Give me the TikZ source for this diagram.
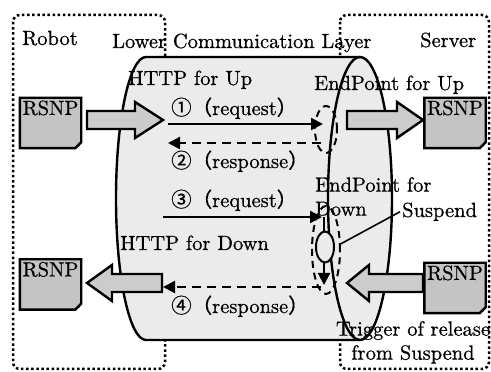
\documentclass[tikz,border=0pt]{standalone}
\usepackage{fontspec}
\setmainfont{lmroman10-regular}[Extension=.otf, FakeBold=0.7]
\newfontfamily\cjkfont{Noto Sans CJK JP}[FakeBold=0.5]
\usetikzlibrary{arrows.meta,shapes.geometric}
\definecolor{cylgray}{gray}{0.92}
\definecolor{boxgray}{gray}{0.77}
\definecolor{arrowgray}{gray}{0.80}
% wide hollow arrow: tail x, head base x, tip x, centre y
\newcommand{\bigflow}[4]{%
  \filldraw[bigarrow] (#1,#4+9) -- (#2,#4+9) -- (#2,#4+18) -- (#3,#4)
    -- (#2,#4-18) -- (#2,#4-9) -- (#1,#4-9) -- cycle;}
% circled step number followed by a full-width bracketed word
\newcommand{\stepmsg}[2]{{\cjkfont #1（}#2{\cjkfont ）}}
% document sheet with a folded lower right corner
\newcommand{\rsnpsheet}[1]{%
  \filldraw[sheet] (#1.north west) -- (#1.north east) -- ([yshift=6pt]#1.south east)
    -- ([xshift=-6pt]#1.south east) -- (#1.south west) -- cycle;
  \fill ([yshift=6pt]#1.south east) -- ([xshift=-6pt]#1.south east)
    -- ([xshift=-2pt,yshift=2pt]#1.south east) -- cycle;
  \node[anchor=north] at ([yshift=-2.5pt]#1.north) {RSNP};}
\begin{document}
\begin{tikzpicture}[x=1pt,y=1pt,
  every node/.style={font=\fontsize{20.5}{24}\selectfont, inner sep=0pt},
  lbl/.style={anchor=base west},
  partframe/.style={line width=2.5pt, dash pattern=on 2.5pt off 2.6pt, rounded corners=7pt},
  outline/.style={line width=2.4pt},
  flow/.style={line width=2.2pt, -{Triangle[length=12pt,width=12pt]}},
  reply/.style={flow, dash pattern=on 9pt off 6pt},
  endpt/.style={ellipse, draw, line width=2pt, dash pattern=on 7pt off 5pt},
  susp/.style={ellipse, draw, fill=cylgray, line width=2pt},
  bigarrow/.style={fill=arrowgray, draw=black, line width=2.4pt, line join=miter},
  sheet/.style={fill=boxgray, draw=black, line width=2.4pt},
  sheetbox/.style={minimum width=61pt, minimum height=50pt}]
\useasboundingbox (0,0) rectangle (491,372);
\fill[white] (0,0) rectangle (491,372);

% Robot and Server frames
\draw[partframe] (13,357) rectangle (165,3);
\draw[partframe] (340,357) rectangle (489,3);

% communication layer drawn as a horizontal cylinder (fill)
\fill[cylgray] (146,315) -- (360,315) -- (360,32) -- (146,32)
  arc[start angle=270, end angle=90, x radius=30, y radius=141.5] -- cycle;
\fill[cylgray] (360,173.5) ellipse[x radius=32, y radius=141.5];

% labels
\node[lbl] (robot)  at (22,327)  {Robot};
\node[lbl] (layer)  at (112,324) {Lower Communication Layer};
\node[lbl] (server) at (420,325) {Server};
\node[lbl] (httpup) at (128,287) {HTTP for Up};
\node[lbl] (epup)   at (314,282) {EndPoint for Up};
\node[lbl] (req1)   at (171,257) {\stepmsg{①}{request}};
\node[lbl] (res2)   at (171,204) {\stepmsg{②}{response}};
\node[lbl] (req3)   at (171,165) {\stepmsg{③}{request}};
\node[lbl] (httpdn) at (120,122) {HTTP for Down};
\node[lbl] (res4)   at (171,59)  {\stepmsg{④}{response}};
\node[anchor=north west, align=left] (epdn) at (315,195) {EndPoint for\\Down};
\node[lbl] (suspend) at (402,155) {Suspend};
\node[anchor=north, align=center] (trigger) at (413,51) {Trigger of release\\from Suspend};

% cylinder outline
\draw[outline] (360,315) -- (146,315)
  arc[start angle=90, end angle=270, x radius=30, y radius=141.5] -- (360,32);
\draw[outline] (360,173.5) ellipse[x radius=32, y radius=141.5];

% end points
\node[endpt, minimum width=22pt, minimum height=47pt] (epuE) at (326,242.5) {};
\node[endpt, minimum width=28pt, minimum height=88pt] (epdE) at (326,122) {};

% HTTP exchanges
\coordinate (a1s) at (168,248); \coordinate (a1e) at (323,248);
\coordinate (a2s) at (321,229); \coordinate (a2e) at (168,229);
\coordinate (a3s) at (163,155); \coordinate (a3e) at (322,155);
\coordinate (a4s) at (321,85);  \coordinate (a4e) at (163,85);
\coordinate (vtop) at (324,155); \coordinate (vbot) at (324,87);
\draw[flow]  (a1s) -- (a1e);
\draw[reply] (a2s) -- (a2e);
\draw[flow]  (a3s) -- (a3e);
\draw[flow]  (vtop) -- (vbot);
\draw[reply] (a4s) -- (a4e);
\node[susp, minimum width=18pt, minimum height=31pt] (spell) at (325,125) {};
\draw[line width=1.6pt, shorten >=5pt] ([xshift=-2pt]suspend.west) -- (spell.east);

% RSNP messages entering and leaving the layer
\bigflow{87}{135}{163}{252}
\bigflow{347}{397}{423}{252}
\bigflow{162}{112}{87}{89}
\bigflow{423}{369}{347}{89}

\node[sheetbox] (rsnpA) at (50.5,249) {};
\node[sheetbox] (rsnpB) at (50.5,87.5) {};
\node[sheetbox] (rsnpC) at (455,249) {};
\node[sheetbox] (rsnpD) at (455,84) {};
\rsnpsheet{rsnpA}
\rsnpsheet{rsnpB}
\rsnpsheet{rsnpC}
\rsnpsheet{rsnpD}
\end{tikzpicture}
\end{document}
